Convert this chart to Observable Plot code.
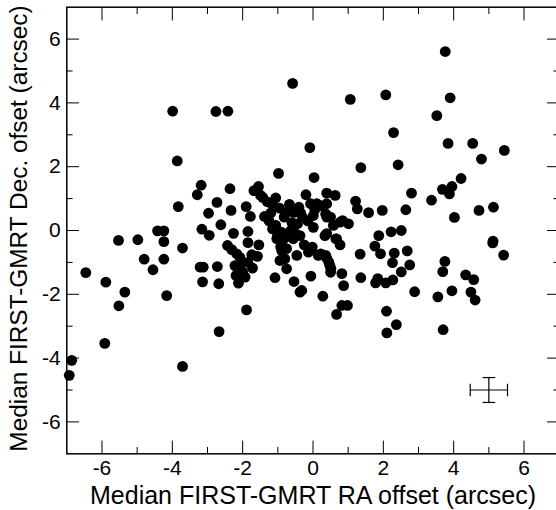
<!DOCTYPE html>
<html><head><meta charset="utf-8">
<script src="https://cdn.jsdelivr.net/npm/d3@7"></script>
<script src="https://cdn.jsdelivr.net/npm/@observablehq/plot@0.6"></script>
<style>html,body{margin:0;padding:0;background:#fff;overflow:hidden}</style>
</head><body><div id="chart"></div>
<script>
const raOffset = [
-3.99,-2.76,-2.42,-0.58,-0.09,-3.86,-0.98,0.03,3.76,1.06,2.07,3.90,3.52,2.29,3.84,4.54,5.44,4.79,1.36,2.42,
4.21,3.68,3.95,3.88,2.80,3.37,1.21,1.26,1.58,1.97,2.64,4.02,4.72,5.13,1.87,2.22,2.51,5.12,-3.18,-3.29,
-2.36,-1.55,-1.59,-1.43,-1.06,-1.17,-3.83,-2.73,-2.97,-2.33,-1.90,-1.78,-1.38,-0.67,-0.20,0.39,0.63,0.39,0.11,0.01,
0.39,0.77,1.01,0.01,0.39,0.67,-0.40,-0.54,-0.82,-1.06,-1.15,-0.07,0.22,0.36,0.50,0.84,-0.30,-0.44,-0.63,-0.78,
-2.62,-3.16,-2.95,-2.26,-1.85,-4.42,-4.24,-5.53,-4.98,-4.24,-3.71,-1.85,-1.54,-2.43,-2.31,-2.17,-2.08,-1.74,-1.58,-4.80,
-4.24,-4.55,-6.46,-5.89,-5.35,-5.52,-4.16,-3.21,-3.12,-2.72,-3.14,-2.68,-2.22,-2.08,-2.19,-2.12,-1.93,-1.72,-1.89,-2.67,
-5.92,-6.86,-6.93,-3.71,-1.03,-0.56,-0.37,-0.89,-0.75,-0.94,-0.80,-0.75,-0.46,-0.13,-0.04,-1.08,-0.54,-0.37,-0.32,-0.06,
0.22,0.36,0.45,5.11,5.42,3.75,3.69,4.34,4.57,3.95,3.55,4.49,4.61,2.89,3.70,2.09,2.37,2.10,1.34,1.36,
1.76,1.92,2.31,2.26,2.68,2.75,2.51,1.84,1.78,2.07,2.27,0.82,0.87,0.28,0.82,0.98,0.67,0.51,0.50,0.34,
0.65,0.77,0.15,0.39,0.48,0.58,-1.20,-0.95,-0.90,-1.25,-0.50,-2.00,-1.85,-0.92,-0.02,-1.01,-0.87,-1.68,-1.49,
-0.70,-0.35,-0.15,-0.60,0.05,-1.30,-0.25
];
const decOffset = [
3.74,3.73,3.74,4.61,2.60,2.18,1.79,1.66,5.61,4.11,4.25,4.16,3.60,3.07,2.73,2.73,2.51,2.24,1.97,2.06,
1.63,1.29,1.38,1.15,1.17,0.95,0.92,0.68,0.56,0.63,0.65,0.41,0.63,0.73,-0.16,-0.04,0.00,-0.33,1.42,1.12,
1.31,1.38,1.25,1.04,1.02,0.84,0.75,0.88,0.54,0.63,0.75,0.44,0.44,0.82,1.12,1.17,1.10,0.84,0.84,0.47,
0.42,0.26,0.21,0.10,-0.10,-0.26,0.73,0.57,0.42,0.16,0.05,0.84,0.78,0.52,0.42,0.31,0.42,0.21,0.00,-0.21,
0.18,0.04,-0.15,-0.09,-0.03,-0.01,-0.01,-0.31,-0.29,-0.35,-0.55,-0.38,-0.45,-0.47,-0.60,-0.73,-0.84,-0.76,-0.81,-0.90,
-0.90,-1.23,-1.32,-1.62,-1.93,-2.36,-2.04,-1.15,-1.15,-1.13,-1.61,-1.67,-1.10,-1.08,-1.41,-1.65,-1.46,-1.18,-2.49,-3.17,
-3.54,-4.07,-4.54,-4.26,-0.26,-0.26,-0.16,-0.63,-0.57,-0.94,-0.89,-1.20,-0.78,-0.68,-0.57,-1.48,-1.60,-1.93,-1.88,-1.43,
-0.73,-0.78,-0.99,-0.39,-0.77,-0.97,-1.29,-1.39,-1.54,-1.89,-2.08,-1.93,-2.18,-1.92,-3.11,-2.53,-2.95,-3.21,-0.74,-1.48,
-0.49,-0.73,-0.71,-1.01,-0.64,-1.08,-1.30,-1.51,-1.64,-1.64,-1.55,-1.35,-1.73,-2.06,-2.35,-2.35,-2.63,-1.20,-1.31,-0.16,
-0.26,-0.45,-0.78,-0.87,-1.10,0.16,0.55,0.70,-0.05,0.30,-0.10,-1.30,-1.00,-0.52,-0.52,-0.16,-0.31,1.25,1.10,
0.60,0.55,0.30,0.25,0.65,0.90,-0.45
];
const majorTicks = [-6, -4, -2, 0, 2, 4, 6];
const minorTicks = [-5, -3, -1, 1, 3, 5];
const axisDomain = [-7, 7];
const xLabel = "Median FIRST-GMRT RA offset (arcsec)";
const yLabel = "Median FIRST-GMRT Dec. ofset (arcsec)";
const errX = [5];
const errY = [-5];
const errHalfX = [0.53];
const errHalfY = [0.39];

const points = raOffset.map((x, i) => ({x, y: decOffset[i]}));
const errBar = errX.map((x, i) => ({x, y: errY[i], dx: errHalfX[i], dy: errHalfY[i]}));

const capV = {draw(ctx, size) { const l = Math.sqrt(size / Math.PI); ctx.moveTo(0, -l); ctx.lineTo(0, l); }};
const capH = {draw(ctx, size) { const l = Math.sqrt(size / Math.PI); ctx.moveTo(-l, 0); ctx.lineTo(l, 0); }};

const W = 556, H = 510;
const mL = 66.3, mR = -2.7, mT = 6.7, mB = 56.7;
const font = "'Liberation Sans', Arial, Helvetica, sans-serif";

const tickAxes = [];
for (const [ticks, size] of [[majorTicks, 12.7], [minorTicks, 6.3]]) {
  for (const a of ["bottom", "top"]) tickAxes.push(Plot.axisX(ticks, {anchor: a, tickSize: -size, tickFormat: () => "", label: null, stroke: "#000", strokeWidth: 1}));
  for (const a of ["left", "right"]) tickAxes.push(Plot.axisY(ticks, {anchor: a, tickSize: -size, tickFormat: () => "", label: null, stroke: "#000", strokeWidth: 1}));
}

const chart = Plot.plot({
  width: W, height: H,
  marginLeft: mL, marginRight: mR, marginTop: mT, marginBottom: mB,
  style: {fontFamily: font, color: "#000", background: "#fff", overflow: "visible"},
  x: {domain: axisDomain, range: [mL, W - mR]},
  y: {domain: axisDomain, range: [H - mB, mT]},
  marks: [
    ...tickAxes,
    Plot.axisX(majorTicks, {anchor: "bottom", tickSize: 0, tickPadding: 6, label: null, fontSize: 21, tickFormat: d => d < 0 ? "-" + Math.abs(d) : String(d)}),
    Plot.axisY(majorTicks, {anchor: "left", tickSize: 0, tickPadding: 6, label: null, fontSize: 21, tickFormat: d => d < 0 ? "-" + Math.abs(d) : String(d)}),
    Plot.frame({stroke: "#000", strokeWidth: 1.5}),
    Plot.dot(points, {x: "x", y: "y", r: 5.4, fill: "#000", stroke: null}),
    Plot.link(errBar, {x1: d => d.x - d.dx, x2: d => d.x + d.dx, y1: "y", y2: "y", stroke: "#000", strokeWidth: 1.2}),
    Plot.link(errBar, {x1: "x", x2: "x", y1: d => d.y - d.dy, y2: d => d.y + d.dy, stroke: "#000", strokeWidth: 1.2}),
    Plot.dot(errBar, {x: d => d.x - d.dx, y: "y", symbol: capV, r: 6.3, stroke: "#000", strokeWidth: 1.2, fill: "none"}),
    Plot.dot(errBar, {x: d => d.x + d.dx, y: "y", symbol: capV, r: 6.3, stroke: "#000", strokeWidth: 1.2, fill: "none"}),
    Plot.dot(errBar, {x: "x", y: d => d.y - d.dy, symbol: capH, r: 6.3, stroke: "#000", strokeWidth: 1.2, fill: "none"}),
    Plot.dot(errBar, {x: "x", y: d => d.y + d.dy, symbol: capH, r: 6.3, stroke: "#000", strokeWidth: 1.2, fill: "none"}),
    Plot.text([xLabel], {frameAnchor: "bottom", textAnchor: "middle", dy: 49.7, lineAnchor: "bottom", fontSize: 25, fill: "#000"}),
    Plot.text([yLabel], {frameAnchor: "left", textAnchor: "middle", dx: -40, dy: -2, rotate: -90, lineAnchor: "bottom", fontSize: 24.4, fill: "#000"})
  ]
});
document.getElementById("chart").appendChild(chart);
</script>
</body></html>
